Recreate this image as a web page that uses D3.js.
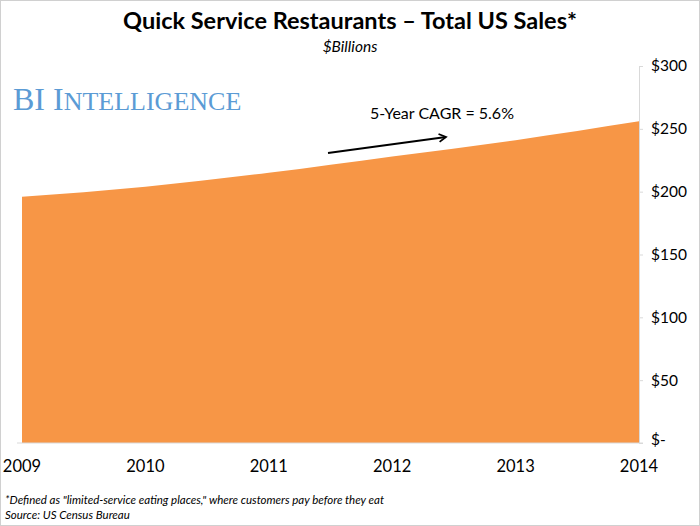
<!DOCTYPE html>
<html>
<head>
<meta charset="utf-8">
<script src="https://cdn.jsdelivr.net/npm/d3@7"></script>
<style>
  html, body { margin: 0; padding: 0; background: #fff; }
  svg { display: block; }
  .tick-label { font-family: Lato, "Open Sans", sans-serif; font-size: 15.5px; fill: #000; }
</style>
</head>
<body>
<div id="chart"></div>
<script>
// Quick service restaurant sales.
const years = ["2009", "2010", "2011", "2012", "2013", "2014"];
const sales = [196, 204, 215, 228, 241, 256];
const yTicks = [0, 50, 100, 150, 200, 250, 300];

(function renderSalesChart() {
  "use strict";

  const width = 700;
  const height = 526;
  const plot = { left: 22, right: 639, top: 66, bottom: 443 };

  const svg = d3.select("#chart")
    .append("svg")
    .attr("width", width)
    .attr("height", height);

  // Thin frame round the picture.
  svg.append("rect")
    .attr("x", 0.5).attr("y", 0.5)
    .attr("width", width - 1).attr("height", height - 1)
    .attr("fill", "#fff").attr("stroke", "#d0d0d0");

  const xScale = d3.scalePoint()
    .domain(years)
    .range([plot.left, plot.right]);

  const yScale = d3.scaleLinear()
    .domain([0, 300])
    .range([plot.bottom, plot.top]);

  const data = years.map(function buildDatum(year, i) {
    return { year: year, value: sales[i] };
  });

  const area = d3.area()
    .x(function (d) { return xScale(d.year); })
    .y0(yScale(0))
    .y1(function (d) { return yScale(d.value); })
    .curve(d3.curveMonotoneX);

  svg.append("path")
    .datum(data)
    .attr("d", area)
    .attr("fill", "#f79646");

  // Right value axis.
  const yAxis = svg.append("g")
    .attr("transform", "translate(" + plot.right + ",0)")
    .call(d3.axisRight(yScale)
      .tickValues(yTicks)
      .tickSize(4)
      .tickPadding(8)
      .tickFormat(function (d) { return d === 0 ? "$-" : "$" + d; }));
  yAxis.select(".domain").attr("stroke", "#d9d9d9");
  yAxis.selectAll(".tick line").attr("stroke", "#d9d9d9");
  yAxis.selectAll(".tick text").attr("class", "tick-label");
  yAxis.selectAll(".tick")
    .filter(function (d) { return d === 0; })
    .select("text")
    .attr("dy", "0.1em");

  // Baseline.
  svg.append("line")
    .attr("x1", plot.left - 5).attr("x2", plot.right + 4)
    .attr("y1", yScale(0)).attr("y2", yScale(0))
    .attr("stroke", "#d9d9d9");

  // Year labels.
  svg.append("g")
    .selectAll("text")
    .data(years)
    .enter()
    .append("text")
    .attr("class", "tick-label")
    .attr("x", function (d) { return xScale(d); })
    .attr("y", 472)
    .attr("text-anchor", "middle")
    .style("font-size", "16.5px")
    .text(function (d) { return d; });

  // Titles.
  svg.append("text")
    .attr("x", 350).attr("y", 29)
    .attr("text-anchor", "middle")
    .style("font-family", "Lato, 'Open Sans', sans-serif")
    .style("font-weight", "bold")
    .style("font-size", "23.5px")
    .text("Quick Service Restaurants \u2013 Total US Sales*");

  svg.append("text")
    .attr("x", 350).attr("y", 52)
    .attr("text-anchor", "middle")
    .style("font-family", "Lato, 'Open Sans', sans-serif")
    .style("font-style", "italic")
    .style("font-size", "15.5px")
    .text("$Billions");

  // Brand mark.
  const brand = svg.append("text")
    .attr("x", 13).attr("y", 110)
    .style("font-family", "'Liberation Serif', 'DejaVu Serif', serif")
    .attr("fill", "#5b9bd5");
  brand.append("tspan").style("font-size", "32px").text("BI I");
  brand.append("tspan").style("font-size", "26px").text("NTELLIGENCE");

  // CAGR note with arrow.
  svg.append("defs").append("marker")
    .attr("id", "arrowhead")
    .attr("viewBox", "0 0 10 10")
    .attr("refX", 8).attr("refY", 5)
    .attr("markerWidth", 5).attr("markerHeight", 5)
    .attr("orient", "auto")
    .append("path")
    .attr("d", "M1,1 L8,5 L1,9")
    .attr("fill", "none")
    .attr("stroke", "#000")
    .attr("stroke-width", 1.8);

  svg.append("line")
    .attr("x1", 328).attr("y1", 153)
    .attr("x2", 446).attr("y2", 137)
    .attr("stroke", "#000")
    .attr("stroke-width", 2)
    .attr("marker-end", "url(#arrowhead)");

  svg.append("text")
    .attr("x", 370).attr("y", 119)
    .style("font-family", "Lato, 'Open Sans', sans-serif")
    .style("font-size", "16px")
    .text("5-Year CAGR = 5.6%");

  // Footnotes.
  const foot = svg.append("g")
    .style("font-family", "Lato, 'Open Sans', sans-serif")
    .style("font-style", "italic")
    .style("font-size", "11.5px");
  foot.append("text").attr("x", 5).attr("y", 504)
    .text("*Defined as \"limited-service eating places,\" where customers pay before they eat");
  foot.append("text").attr("x", 5).attr("y", 519)
    .text("Source: US Census Bureau");
})();
</script>
</body>
</html>
